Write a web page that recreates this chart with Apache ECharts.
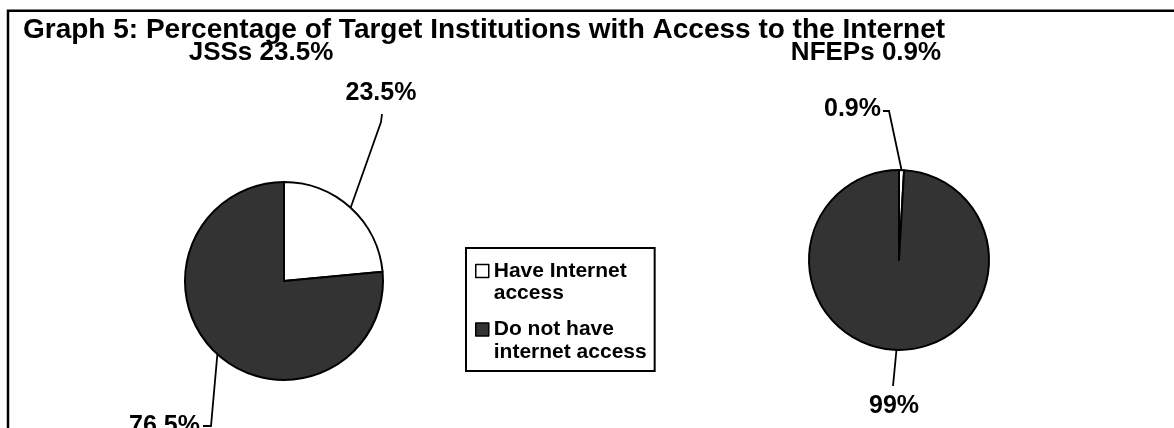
<!DOCTYPE html>
<html>
<head>
<meta charset="utf-8">
<script src="https://cdn.jsdelivr.net/npm/echarts@6/dist/echarts.min.js"></script>
<style>
  html, body { margin: 0; padding: 0; background: #ffffff; }
  #chart { width: 1174px; height: 428px; }
</style>
</head>
<body>
<div id="chart"></div>
<script>
// ---- data ----
const titleText = 'Graph 5: Percentage of Target Institutions with Access to the Internet';
const categories = ['Have Internet access', 'Do not have internet access'];
const legendLines = ['Have Internet\naccess', 'Do not have\ninternet access'];
const groupNames = ['JSSs', 'NFEPs'];
const jssValues = [23.5, 76.5];
const nfepValues = [0.9, 99];
const jssLabels = ['23.5%', '76.5%'];
const nfepLabels = ['0.9%', '99%'];
const sliceColors = ['#ffffff', '#333333'];

// ---- styling ----
const FONT = '"Liberation Sans", Arial, Helvetica, sans-serif';
const boldText = (size, extra) => Object.assign({
  fontFamily: FONT, fontWeight: 'bold', fontSize: size, lineHeight: size, color: '#000'
}, extra || {});

// pie geometry
const pies = [
  { center: [284, 281], radius: 99 },
  { center: [899, 260], radius: 90 }
];

// where each value label sits and how its leader line bends
const leaderPlan = [
  [
    { x: 381, y: 93, align: 'center', bend: [381, 122], end: [382, 114] },
    { x: 200, y: 426, align: 'right', bend: [211, 426], end: [203, 426] }
  ],
  [
    { x: 881, y: 109, align: 'right', bend: [889, 111], end: [883, 111] },
    { x: 894, y: 406, align: 'center', bend: [893, 386], end: [893, 386] }
  ]
];

// point on the rim at the middle of a slice (fallback if the library gives none)
function rimPoint(seriesIndex, dataIndex, values) {
  const total = values.reduce((a, b) => a + b, 0);
  let start = 0;
  for (let i = 0; i < dataIndex; i++) start += values[i];
  const mid = (start + values[dataIndex] / 2) / total * Math.PI * 2;
  const p = pies[seriesIndex];
  return [p.center[0] + Math.sin(mid) * p.radius, p.center[1] - Math.cos(mid) * p.radius];
}

function makePie(seriesIndex, values, labels) {
  return {
    type: 'pie',
    name: groupNames[seriesIndex],
    center: pies[seriesIndex].center,
    radius: pies[seriesIndex].radius,
    startAngle: 90,
    clockwise: true,
    avoidLabelOverlap: false,
    animation: false,
    emphasis: { disabled: true },
    itemStyle: { borderColor: '#000', borderWidth: 2 },
    data: categories.map((name, i) => ({
      name: name,
      value: values[i],
      itemStyle: { color: sliceColors[i] }
    })),
    label: Object.assign({
      show: true,
      position: 'outside',
      formatter: p => labels[p.dataIndex]
    }, boldText(25)),
    labelLine: {
      show: true,
      length: 10,
      length2: 10,
      lineStyle: { color: '#000', width: 1.8 }
    },
    labelLayout: function (params) {
      const plan = leaderPlan[seriesIndex][params.dataIndex];
      const start = (params.labelLinePoints && params.labelLinePoints[0])
        ? params.labelLinePoints[0]
        : rimPoint(seriesIndex, params.dataIndex, values);
      return {
        x: plan.x,
        y: plan.y,
        align: plan.align,
        verticalAlign: 'middle',
        labelLinePoints: [start.slice(), plan.bend.slice(), plan.end.slice()]
      };
    }
  };
}

const chart = echarts.init(document.getElementById('chart'), null, { renderer: 'canvas' });

chart.setOption({
  backgroundColor: '#ffffff',
  animation: false,
  title: [
    { text: titleText, left: 23, top: 16.5, padding: 0, textStyle: boldText(28) },
    { text: groupNames[0] + ' ' + jssLabels[0], left: 261, top: 40, padding: 0,
      textAlign: 'center', textStyle: boldText(26) },
    { text: groupNames[1] + ' ' + nfepLabels[0], left: 866, top: 40, padding: 0,
      textAlign: 'center', textStyle: boldText(26) }
  ],
  legend: {
    orient: 'vertical',
    left: 466,
    top: 248,
    padding: [11, 8, 7, 9],
    itemGap: 12,
    itemWidth: 13,
    itemHeight: 45,
    // square marker sitting beside the first line of each two-line entry
    icon: 'path://M0,0M0,4.75L13,4.75L13,17.75L0,17.75Z M13,45',
    itemStyle: { borderColor: '#000', borderWidth: 1.5 },
    borderColor: '#000',
    borderWidth: 2,
    backgroundColor: '#fff',
    selectedMode: false,
    data: categories,
    formatter: name => legendLines[categories.indexOf(name)],
    textStyle: boldText(21, { lineHeight: 22.5 })
  },
  graphic: [
    {
      type: 'rect',
      silent: true,
      z: -1,
      shape: { x: 8, y: 10.7, width: 1400, height: 800 },
      style: { fill: 'none', stroke: '#000', lineWidth: 2.5 }
    }
  ],
  series: [
    makePie(0, jssValues, jssLabels),
    makePie(1, nfepValues, nfepLabels)
  ]
});
</script>
</body>
</html>
